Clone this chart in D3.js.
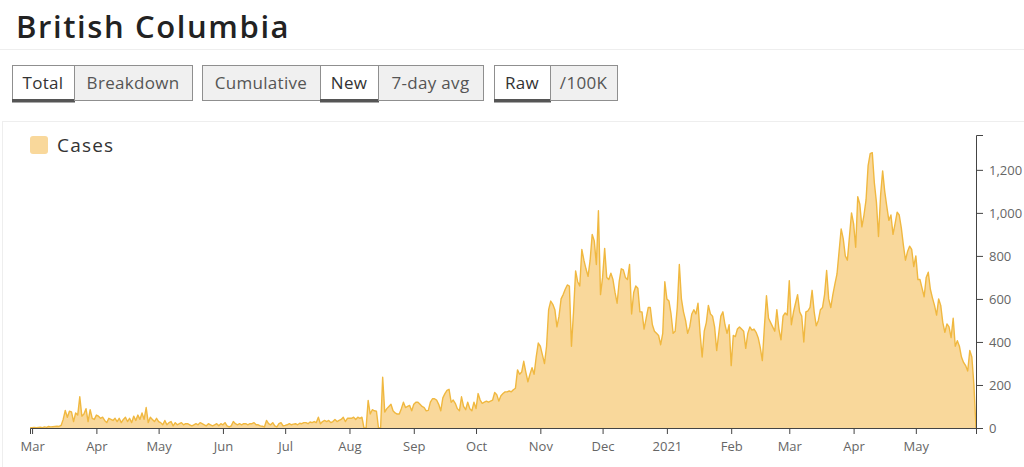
<!DOCTYPE html>
<html><head><meta charset="utf-8">
<script src="https://cdn.jsdelivr.net/npm/d3@7"></script>
<style>
html,body{margin:0;padding:0;background:#fff;}
svg{display:block;font-family:"Open Sans",sans-serif;}
</style></head><body>
<svg id="chart" width="1024" height="467"></svg>
<script>
// ---------- DATA (daily new cases) ----------
const titleText = "British Columbia";
const startDate = "2020-02-29";
const c2020_02 = [0];
const c2020_03 = [1,2,1,3,4,2,5,3,7,5,6,7,8,7,12,40,82,50,78,75,30,70,60,145,55,65,90,30,85,45,40];
const c2020_04 = [60,55,45,50,35,25,45,40,35,45,30,45,25,40,50,30,45,25,55,35,60,40,70,40,95,25,50,40,30,45];
const c2020_05 = [30,25,15,35,15,25,30,10,25,15,20,25,15,20,20,15,10,15,20,15,25,20,15,10,20,15,10,15,20,10,20];
const c2020_06 = [15,25,10,5,10,30,20,15,20,15,20,20,15,20,20,25,15,15,10,8,5,35,20,15,25,10,5,20,25,10];
const c2020_07 = [12,15,20,15,18,20,15,22,20,25,25,20,28,25,30,25,50,20,30,35,30,35,25,30,40,30,35,40,50,30,45];
const c2020_08 = [45,45,50,40,50,45,50,0,0,128,65,85,80,78,0,0,236,74,90,100,110,80,70,65,65,90,120,95,100,105,80];
const c2020_09 = [110,120,120,110,100,95,80,82,120,136,136,130,110,80,140,160,175,180,120,130,115,90,80,145,100,85,120,90,80,120];
const c2020_10 = [90,160,130,115,120,125,120,125,130,165,155,125,150,160,168,168,172,168,178,185,270,250,260,310,260,215,250,280,250,330,395];
const c2020_11 = [380,340,300,380,550,590,575,550,470,520,600,620,645,665,660,380,540,730,680,660,830,780,740,705,780,900,870,760,1010,620];
const c2020_12 = [700,835,700,690,720,690,630,580,680,740,735,700,690,760,530,630,660,650,540,540,460,510,560,560,480,450,440,430,387,440,680];
const c2021_01 = [600,590,530,440,450,560,760,600,540,500,440,470,530,550,530,580,440,330,450,490,570,530,520,470,360,440,520,540,480,440,480];
const c2021_02 = [290,430,425,460,470,460,450,370,440,470,455,460,445,420,375,313,470,615,510,490,470,450,550,460,410,520,535,525];
const c2021_03 = [685,480,538,580,620,540,520,400,540,545,561,640,540,475,500,550,560,620,732,600,560,620,670,716,820,925,880,800,780,890,1000];
const c2021_04 = [950,840,1075,1040,935,990,1060,1220,1275,1280,1140,1050,890,1080,1195,1100,1030,965,990,900,950,1003,990,930,850,780,820,845,830,750];
const c2021_05 = [800,690,690,650,610,700,724,645,605,570,525,600,570,490,445,484,470,420,510,380,406,380,330,305,290,265,360,330,200,0];

const seriesName = "Cases";
const yTickValues = [0,200,400,600,800,1000,1200];
const monthTicks = ["2020-03-01","2020-04-01","2020-05-01","2020-06-01","2020-07-01","2020-08-01","2020-09-01","2020-10-01","2020-11-01","2020-12-01","2021-01-01","2021-02-01","2021-03-01","2021-04-01","2021-05-01"];
const monthLabels = ["Mar","Apr","May","Jun","Jul","Aug","Sep","Oct","Nov","Dec","2021","Feb","Mar","Apr","May"];
const buttonGroups = [["Total","Breakdown"],["Cumulative","New","7-day avg"],["Raw","/100K"]];
const activeButtons = ["Total","New","Raw"];

// ---------- LAYOUT / STYLE ----------
const W = 1024, H = 467;
const plot = {left:30, right:976, top:135, bottom:428};
const yDomainMax = 1362;
const fillColor = "#f9d89b";
const lineColor = "#f0b840";
const buttonWidths = [[62,118],[118,58,105],[56,67]];
const buttonX0 = [12,202,494];
const buttonTop = 65, buttonH = 35;

const parse = d3.utcParse("%Y-%m-%d");
const values = [].concat(c2020_02,c2020_03,c2020_04,c2020_05,c2020_06,c2020_07,c2020_08,c2020_09,c2020_10,c2020_11,c2020_12,c2021_01,c2021_02,c2021_03,c2021_04,c2021_05);
const t0 = parse(startDate);
const data = values.map((v,i)=>({date:d3.utcDay.offset(t0,i), value:v}));

const svg = d3.select("#chart");

// title and separators
svg.append("text").attr("x",16).attr("y",38)
  .attr("font-size",31).attr("font-weight",600).attr("fill","#222")
  .attr("letter-spacing",1.6)
  .text(titleText);
svg.append("line").attr("x1",0).attr("x2",W).attr("y1",49.5).attr("y2",49.5).attr("stroke","#eeeeee");
svg.append("line").attr("x1",2).attr("x2",W).attr("y1",121.5).attr("y2",121.5).attr("stroke","#eeeeee");
svg.append("line").attr("x1",2.5).attr("x2",2.5).attr("y1",121.5).attr("y2",H).attr("stroke","#eeeeee");

// buttons
buttonGroups.forEach((grp,gi)=>{
  let x = buttonX0[gi];
  const g = svg.append("g");
  grp.forEach((label,bi)=>{
    const w = buttonWidths[gi][bi];
    const active = activeButtons.includes(label);
    g.append("rect").attr("x",x+0.5).attr("y",buttonTop+0.5).attr("width",w).attr("height",buttonH)
      .attr("fill",active?"#ffffff":"#f0f0f0").attr("stroke","#8f8f8f").attr("stroke-width",1);
    g.append("text").attr("x",x+w/2).attr("y",buttonTop+buttonH/2+6)
      .attr("text-anchor","middle").attr("font-size",17).attr("fill",active?"#333":"#555")
      .attr("letter-spacing",0.3)
      .text(label);
    if(active){
      g.append("rect").attr("x",x).attr("y",buttonTop+buttonH-1).attr("width",w+1).attr("height",3.5).attr("fill","#555");
    }
    x += w;
  });
});

// legend
svg.append("rect").attr("x",30).attr("y",136).attr("width",18).attr("height",18).attr("rx",3).attr("fill",fillColor);
svg.append("text").attr("x",57).attr("y",152).attr("font-size",19).attr("fill","#333")
  .attr("letter-spacing",1.2).text(seriesName);

// scales
const x = d3.scaleUtc().domain(d3.extent(data,d=>d.date)).range([plot.left,plot.right]);
const y = d3.scaleLinear().domain([0,yDomainMax]).range([plot.bottom,plot.top]);

// area + line
svg.append("path").datum(data)
  .attr("fill",fillColor)
  .attr("d",d3.area().x(d=>x(d.date)).y0(y(0)).y1(d=>y(d.value)));
svg.append("path").datum(data)
  .attr("fill","none").attr("stroke",lineColor).attr("stroke-width",1.4).attr("stroke-linejoin","round")
  .attr("d",d3.line().x(d=>x(d.date)).y(d=>y(d.value)));

// axes
const tickDates = monthTicks.map(parse);
const xAxis = d3.axisBottom(x).tickValues(tickDates).tickSize(6).tickPadding(8)
  .tickFormat((d,i)=>monthLabels[i]);
const gx = svg.append("g").attr("transform",`translate(0,${plot.bottom})`).call(xAxis);
const yAxis = d3.axisRight(y).tickValues(yTickValues).tickSize(7).tickPadding(6).tickFormat(d3.format(","));
const gy = svg.append("g").attr("transform",`translate(${plot.right},0)`).call(yAxis);
[gx,gy].forEach(g=>{
  g.select(".domain").attr("stroke","#444");
  g.selectAll(".tick line").attr("stroke","#444");
  g.selectAll(".tick text").attr("fill","#666").attr("font-size",13).attr("font-family","'Open Sans',sans-serif");
});
</script>
</body></html>
